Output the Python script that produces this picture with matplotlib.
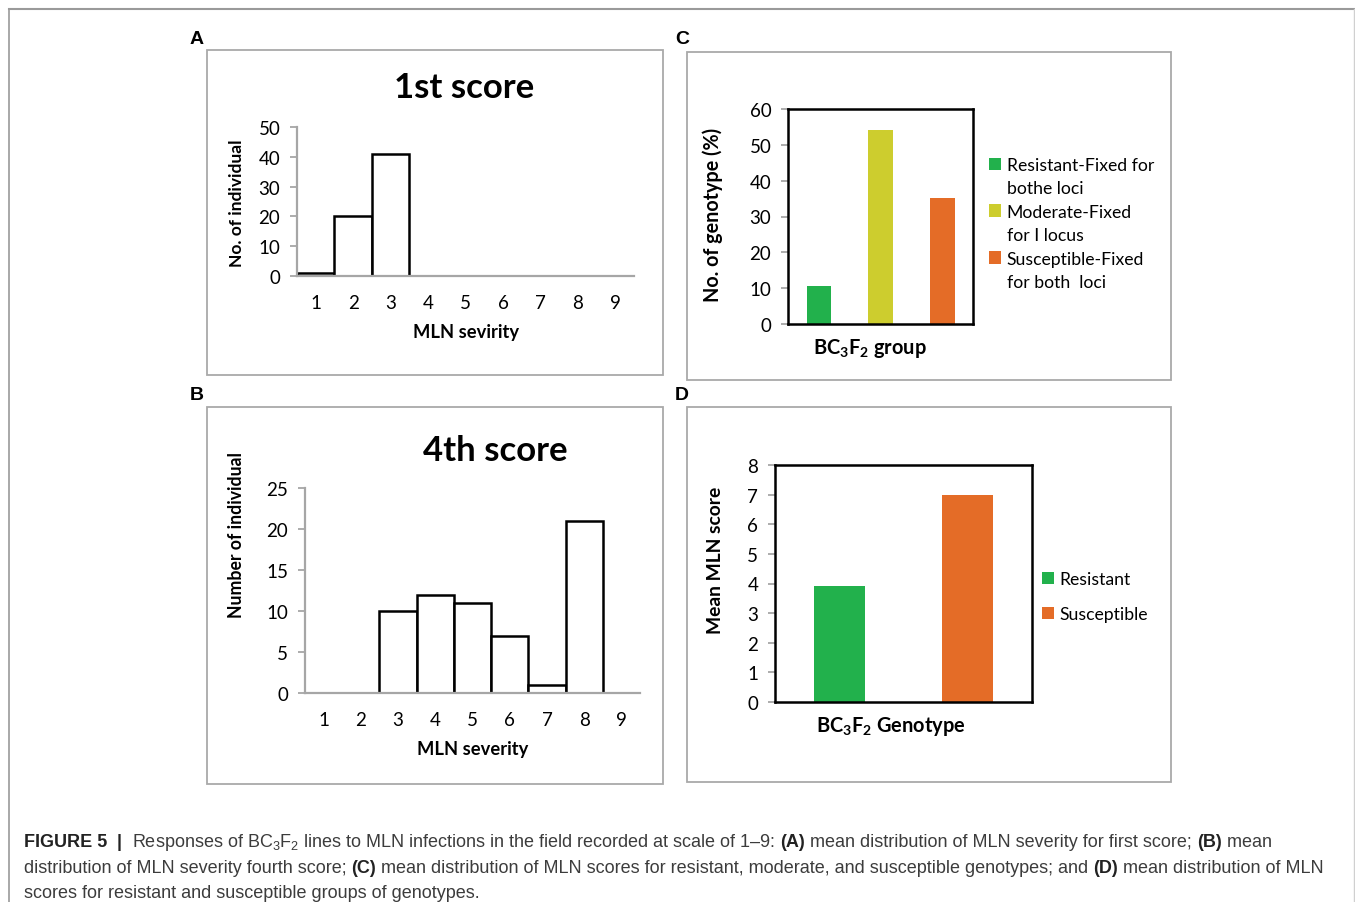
import matplotlib
matplotlib.use("Agg")
import matplotlib.pyplot as plt
from matplotlib.patches import Rectangle, Patch
from matplotlib.lines import Line2D

W, H = 1355, 903

# data
severity = [1, 2, 3, 4, 5, 6, 7, 8, 9]
first_score = [1, 20, 41, 0, 0, 0, 0, 0, 0]
fourth_score = [0, 0, 10, 12, 11, 7, 1, 21, 0]
group_labels = ["Resistant-Fixed for\nbothe loci", "Moderate-Fixed\nfor I locus",
                "Susceptible-Fixed\nfor both  loci"]
group_pct = [10.5, 54.2, 35.2]
genotype_labels = ["Resistant", "Susceptible"]
genotype_mean = [3.9, 7.0]

GREEN = "#22b14c"
YELLOW = "#cdcd2e"
ORANGE = "#e46c27"
AXGRAY = "#a6a6a6"
CAP_FONT = ["Liberation Sans", "DejaVu Sans"]

plt.rcParams['font.family'] = ['Lato', 'DejaVu Sans']
plt.rcParams['mathtext.fontset'] = 'custom'
plt.rcParams['mathtext.rm'] = 'Liberation Sans'
plt.rcParams['mathtext.bf'] = 'Lato:bold'

fig = plt.figure(figsize=(W / 100, H / 100), dpi=100)


def fx(x):
    return x / W


def fy(y):
    return 1 - y / H


def rect(x0, y0, x1, y1):
    return [fx(x0), fy(y1), (x1 - x0) / W, (y1 - y0) / H]


# outer frame (top, left, right) and the four panel boxes
fig.add_artist(Line2D([fx(9), fx(1354)], [fy(10), fy(10)], color="#9a9a9a", lw=1.5))
fig.add_artist(Line2D([fx(9), fx(9)], [fy(10), 0], color="#9a9a9a", lw=1.2))
fig.add_artist(Line2D([fx(1354), fx(1354)], [fy(10), 0], color="#d0d0d0", lw=1.0))
for x0, y0, x1, y1 in [(207, 51, 663, 376), (687, 53, 1171, 381),
                       (207, 408, 663, 785), (687, 408, 1171, 783)]:
    fig.add_artist(Rectangle((fx(x0), fy(y1)), (x1 - x0) / W, (y1 - y0) / H,
                             transform=fig.transFigure, fill=False,
                             edgecolor="#a9a9a9", lw=1.3))

for letter, x, y in [("A", 197, 40), ("B", 197, 396), ("C", 682, 40), ("D", 682, 396)]:
    fig.text(fx(x), fy(y), letter, family=CAP_FONT, weight="bold", fontsize=14,
             ha="center", va="center")

TICK = 13.5


def style_y(ax):
    ax.tick_params(axis="y", direction="out", length=5, width=1.3, color=AXGRAY,
                   labelsize=TICK, pad=7)


def place_labels(ax, ylab, ysize, ylab_xy, xlab, xsize, xlab_xy):
    ax.set_ylabel(ylab, fontsize=ysize, weight="bold")
    ax.yaxis.set_label_coords(fx(ylab_xy[0]), fy(ylab_xy[1]), transform=fig.transFigure)
    ax.yaxis.label.set_va("center")
    ax.set_xlabel(xlab, fontsize=xsize, weight="bold")
    ax.xaxis.set_label_coords(fx(xlab_xy[0]), fy(xlab_xy[1]), transform=fig.transFigure)
    ax.xaxis.label.set_va("center")


def histo(box, values, ymax, step, title, title_xy, ylab, ysize, ylab_xy, xlab, xlab_xy):
    ax = fig.add_axes(rect(*box))
    xs = [s for s, v in zip(severity, values) if v > 0]
    vs = [v for v in values if v > 0]
    ax.bar(xs, vs, width=1.0, facecolor="white", edgecolor="black", linewidth=1.8, zorder=1)
    ax.set_xlim(0.5, 9.5)
    ax.set_ylim(0, ymax)
    ax.set_xticks(severity)
    ax.set_yticks(range(0, ymax + 1, step))
    for side in ["top", "right"]:
        ax.spines[side].set_visible(False)
    for side in ["left", "bottom"]:
        ax.spines[side].set_color(AXGRAY)
        ax.spines[side].set_linewidth(1.6)
    style_y(ax)
    ax.tick_params(axis="x", length=0, pad=13, labelsize=TICK)
    place_labels(ax, ylab, ysize, ylab_xy, xlab, 13.2, xlab_xy)
    fig.text(fx(title_xy[0]), fy(title_xy[1]), title, fontsize=25, weight="bold",
             ha="center", va="center")
    return ax


histo((297, 128, 634, 277), first_score, 50, 10, "1st score", (464, 88),
      "No. of individual", 12.5, (237, 203), "MLN sevirity", (466, 333))
histo((305, 489, 640, 694), fourth_score, 25, 5, "4th score", (495, 451),
      "Number of individual", 12.7, (237, 535), "MLN severity", (473, 750))


def boxed_bars(box, values, colors, labels, ymax, ylab, ysize, ylab_xy, xlab, xlab_xy,
               leg_xy, spacing):
    ax = fig.add_axes(rect(*box))
    pos = list(range(len(values)))
    ax.bar(pos, values, width=0.4, color=colors, zorder=1)
    ax.set_xlim(-0.5, len(values) - 0.5)
    ax.set_ylim(0, ymax)
    ax.set_yticks(range(0, ymax + 1, 10 if ymax > 10 else 1))
    ax.set_xticks([])
    for s in ax.spines.values():
        s.set_color("black")
        s.set_linewidth(1.8)
    style_y(ax)
    place_labels(ax, ylab, ysize, ylab_xy, xlab, 14.4, xlab_xy)
    # one legend row per text line; continuation lines get an empty handle
    handles, texts = [], []
    for c, lab in zip(colors, labels):
        for i, part in enumerate(lab.split("\n")):
            handles.append(Patch(facecolor=c if i == 0 else "none", edgecolor="none"))
            texts.append(part)
    ax.legend(handles, texts, loc="upper left",
              bbox_to_anchor=(fx(leg_xy[0]), fy(leg_xy[1])),
              bbox_transform=fig.transFigure, frameon=False, fontsize=12.7,
              handlelength=0.7, handleheight=0.7, handletextpad=0.3,
              labelspacing=spacing, borderpad=0, borderaxespad=0)
    return ax


boxed_bars((788, 110, 973, 325), group_pct, [GREEN, YELLOW, ORANGE], group_labels, 60,
           "No. of genotype (%)", 14.2, (713, 215),
           r"BC$_\mathbf{3}$F$_\mathbf{2}$ group", (870, 349), (989, 158), 0.42)
boxed_bars((775, 466, 1032, 703), genotype_mean, [GREEN, ORANGE], genotype_labels, 8,
           "Mean MLN score", 13.9, (716, 560),
           r"BC$_\mathbf{3}$F$_\mathbf{2}$ Genotype", (891, 727), (1042, 572), 1.1)

# caption with mixed bold pieces
renderer = fig.canvas.get_renderer()
CAP_SIZE = 13.0


def piece_width(s, weight):
    t = fig.text(0, 0, s + "|", fontsize=CAP_SIZE, family=CAP_FONT, weight=weight)
    w = t.get_window_extent(renderer).width
    t.set_text("|")
    w -= t.get_window_extent(renderer).width
    t.remove()
    return w


caption = [
    [("FIGURE 5", "bold"), ("  |  ", "bold"),
     ("Responses of BC$_3$F$_2$ lines to MLN infections in the field recorded at scale of 1\u20139: ", "normal"),
     ("(A)", "bold"), (" mean distribution of MLN severity for first score; ", "normal"),
     ("(B)", "bold"), (" mean", "normal")],
    [("distribution of MLN severity fourth score; ", "normal"), ("(C)", "bold"),
     (" mean distribution of MLN scores for resistant, moderate, and susceptible genotypes; and ", "normal"),
     ("(D)", "bold"), (" mean distribution of MLN", "normal")],
    [("scores for resistant and susceptible groups of genotypes.", "normal")],
]
for line, base in zip(caption, [847, 873, 898]):
    x = 24
    for s, weight in line:
        fig.text(fx(x), fy(base), s, fontsize=CAP_SIZE, family=CAP_FONT, weight=weight,
                 color="#222222" if weight == "bold" else "#3c3c3c", va="baseline")
        x += piece_width(s, weight)

fig.savefig("out.png", dpi=100)
